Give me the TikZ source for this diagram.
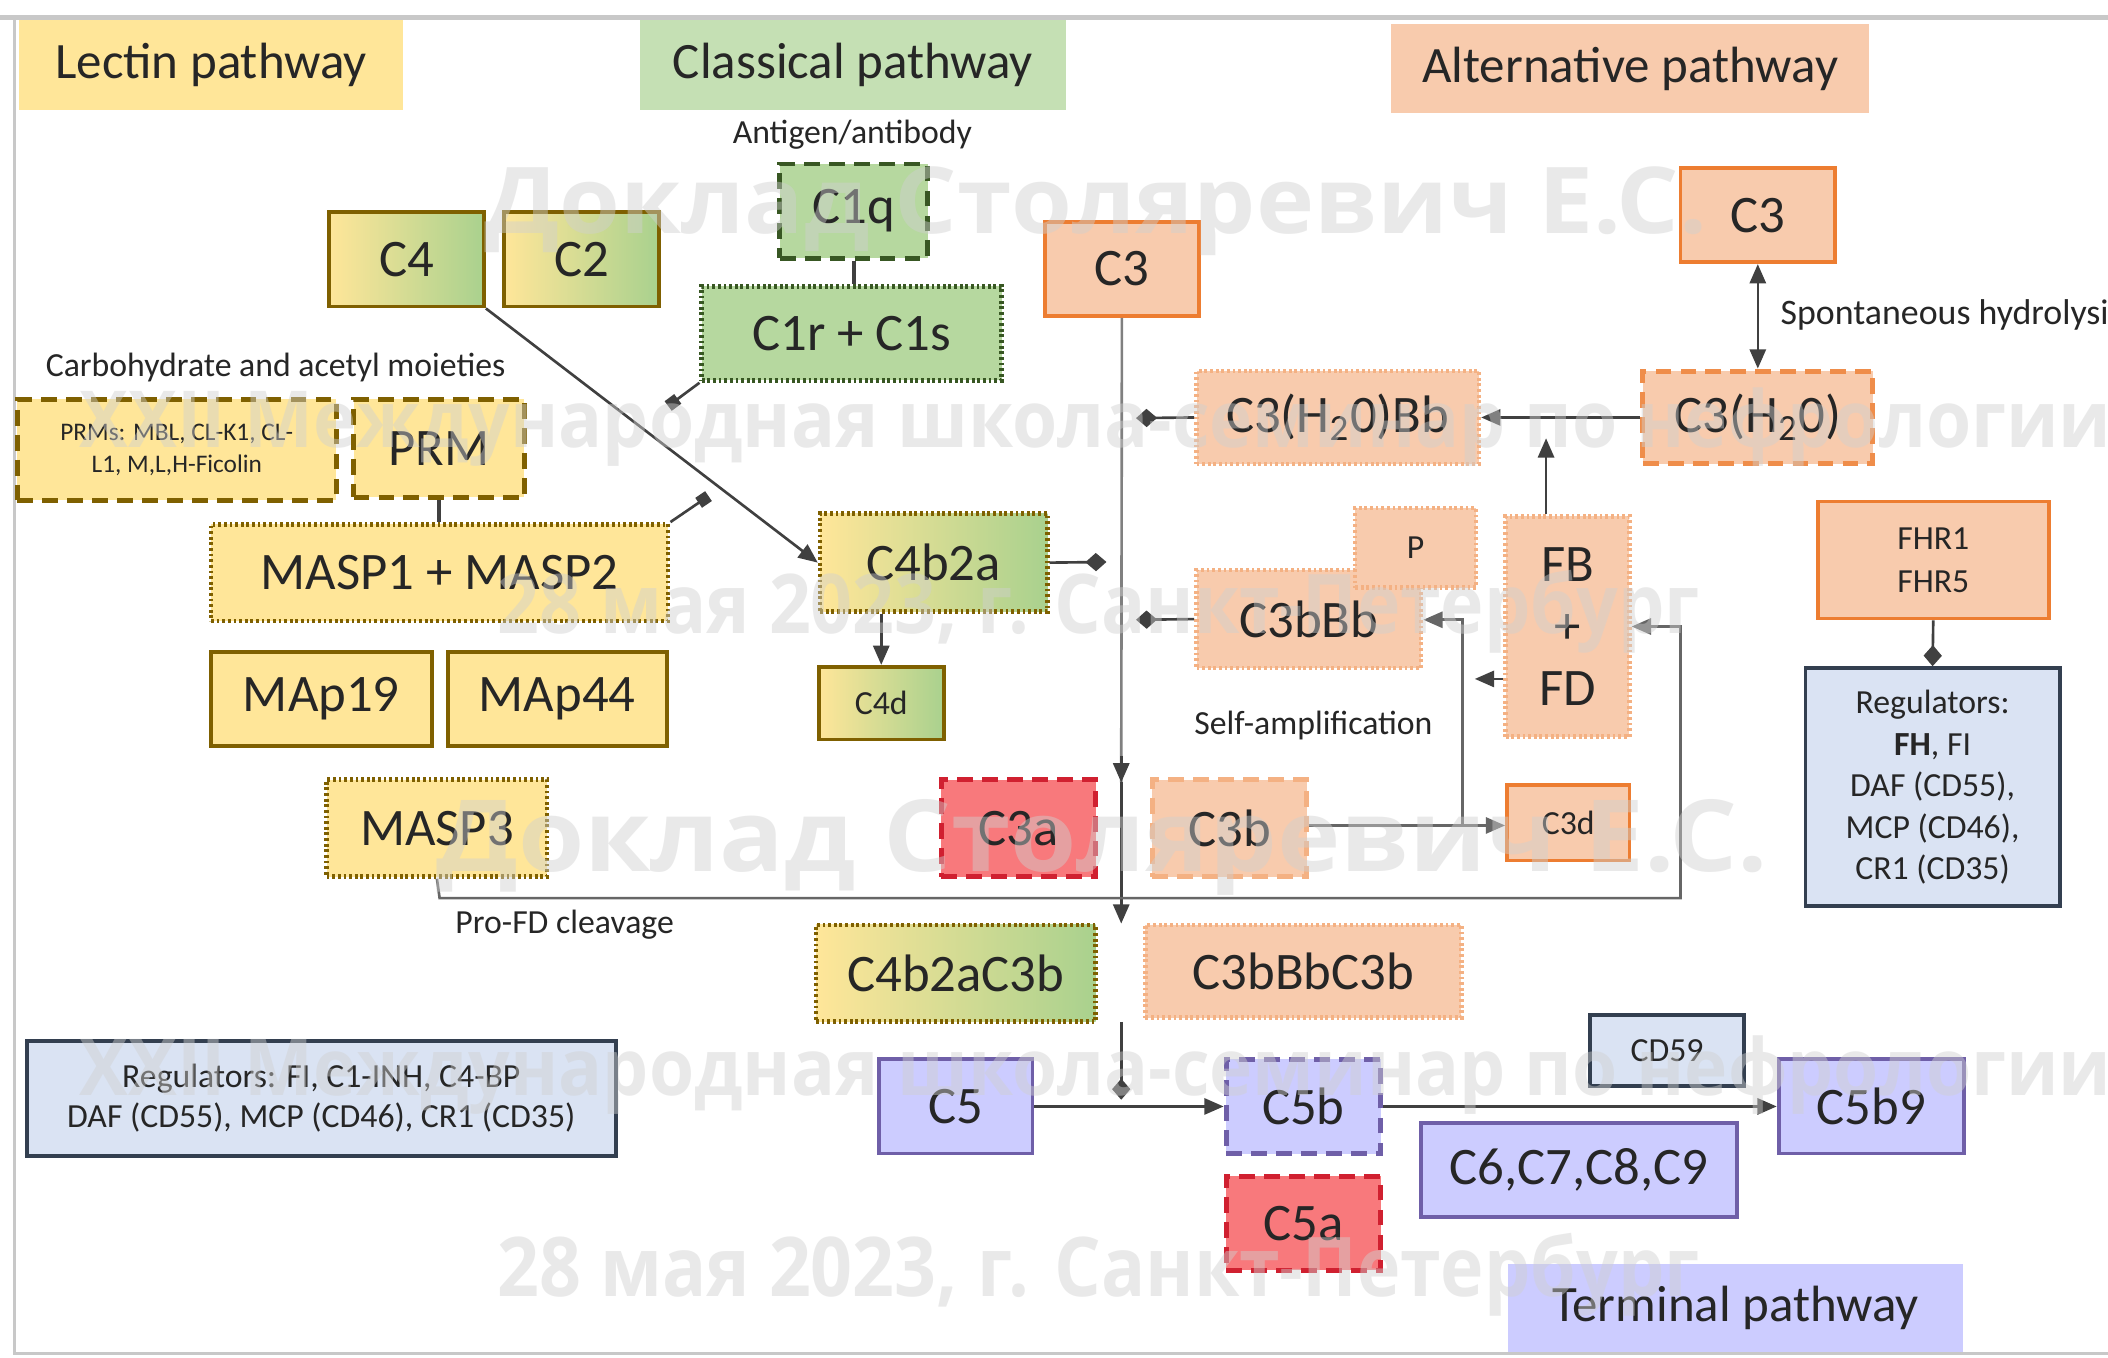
\documentclass[tikz,border=0pt]{standalone}
\usepackage{fontspec}
\setmainfont{Carlito}
\newfontfamily\wmfont{Open Sans}
\usepackage{graphicx}
\usetikzlibrary{arrows.meta}
\definecolor{txt}{HTML}{262626}
\definecolor{yelF}{HTML}{FFE699}
\definecolor{grnF}{HTML}{A9D18E}
\definecolor{grnT}{HTML}{C5E0B4}
\definecolor{orgF}{HTML}{F8CBAD}
\definecolor{orgB}{HTML}{ED7D31}
\definecolor{orgL}{HTML}{F4B183}
\definecolor{oliveB}{HTML}{7F6000}
\definecolor{dgrnB}{HTML}{385723}
\definecolor{redF}{HTML}{F8797C}
\definecolor{redB}{HTML}{D02030}
\definecolor{lavF}{HTML}{CCCCFF}
\definecolor{lavB}{HTML}{6F5FA8}
\definecolor{bluF}{HTML}{DAE3F3}
\definecolor{bluB}{HTML}{333F50}
\definecolor{lineC}{HTML}{404040}
\definecolor{frameC}{HTML}{C8C8C8}
\definecolor{wmC}{HTML}{D0D0D0}
\newlength\U
\setlength\U{0.38252pt}
\newcommand\lbl{\fontsize{15}{17}\selectfont}
\newcommand\ttlf{\fontsize{14.5}{17}\selectfont}
\newcommand\sml{\fontsize{9.6}{11.8}\selectfont}
\newcommand\tny{\fontsize{7.2}{9}\selectfont}
\newcommand\bx[7]{\node[bs,#6,minimum width={(#4-#2)*\U},minimum height={(#5-#3)*\U}] (#1) at ({(#2+#4)/2},{(#3+#5)/2}) {#7};}
\tikzset{
  bs/.style={rectangle,inner sep=0pt,align=center,text=txt,font=\lbl},
  sol/.style={draw,line width=1.1pt},
  dsh/.style={draw,line width=1.4pt,dash pattern=on 4.5pt off 2.6pt},
  dts/.style={draw,line width=1.3pt,dash pattern=on 0.8pt off 0.8pt},
  yel/.style={fill=yelF,draw=oliveB},
  grad/.style={left color=yelF,right color=grnF,draw=oliveB},
  grnb/.style={fill=grnF!85!white,draw=dgrnB},
  org/.style={fill=orgF,draw=orgB},
  orgl/.style={fill=orgF,draw=orgL},
  redb/.style={fill=redF,draw=redB},
  lav/.style={fill=lavF,draw=lavB},
  blu/.style={fill=bluF,draw=bluB},
  ttl/.style={font=\ttlf},
  lab/.style={text=txt,font=\sml,inner sep=0pt},
  conn/.style={draw=lineC,line width=0.75pt},
  arr/.style={conn,-{Triangle[length=5.5pt,width=4.6pt]}},
  dia/.style={conn,-{Diamond[length=6pt,width=5.2pt]}},
  sqr/.style={conn,-{Square[length=3.4pt,width=3.4pt]}},
  wm/.style={inner sep=0pt,text=wmC,text opacity=0.45,font=\wmfont\bfseries}
}
\begin{document}
\begin{tikzpicture}[x=0.013444cm,y=-0.013444cm]
\useasboundingbox (0,0) rectangle (1568,1010);
\fill[white] (0,0) rectangle (1568,1010);
% frame
\draw[frameC,line width=1.3pt] (0,13) -- (1568,13);
\draw[frameC,line width=0.8pt] (11,13) -- (11,1007) -- (1568,1007);
% titles
\bx{tL}{14}{15}{300}{82}{ttl,fill=yelF}{Lectin pathway}
\bx{tC}{476}{15}{793}{82}{ttl,fill=grnT}{Classical pathway}
\bx{tA}{1035}{18}{1390}{84}{ttl,fill=orgF}{Alternative pathway}
\bx{tT}{1122}{940}{1460}{1006}{ttl,fill=lavF}{Terminal pathway}
% free labels
\node[lab] (l1) at (634,100) {Antigen/antibody};
\node[lab] (l2) at (205,273) {Carbohydrate and acetyl moieties};
\node[lab,anchor=west,font=\fontsize{10.2}{12}\selectfont] (l3) at (1324,234) {Spontaneous hydrolysis};
\node[lab] (l4) at (977,540) {Self-amplification};
\node[lab] (l5) at (420,688) {Pro-FD cleavage};
% lectin / classical nodes
\bx{C4}{245}{158}{360}{228}{grad,sol}{C4}
\bx{C2}{375}{158}{490}{228}{grad,sol}{C2}
\bx{C1q}{580}{122}{690}{192}{grnb,dsh}{C1q}
\bx{C1rs}{522}{213}{745}{283}{grnb,dts}{C1r + C1s}
\bx{PRMs}{13}{297}{250}{372}{yel,dsh,font=\tny}{PRMs: MBL, CL-K1, CL-\\L1, M,L,H-Ficolin}
\bx{PRM}{263}{297}{390}{370}{yel,dsh}{PRM}
\bx{MASP12}{157}{390}{497}{462}{yel,dts}{MASP1 + MASP2}
\bx{MAp19}{157}{485}{321}{555}{yel,sol}{MAp19}
\bx{MAp44}{333}{485}{496}{555}{yel,sol}{MAp44}
\bx{MASP3}{243}{580}{407}{652}{yel,dts}{MASP3}
\bx{C4b2a}{610}{382}{779}{455}{grad,dts}{C4b2a}
\bx{C4d}{609}{496}{702}{550}{grad,sol,font=\sml}{C4d}
% alternative
\bx{C3c}{777}{165}{892}{235}{org,sol}{C3}
\bx{C3r}{1250}{125}{1365}{195}{org,sol}{C3}
\bx{C3HBb}{890}{276}{1100}{345}{orgl,dts}{C3(H\textsubscript{2}0)Bb}
\bx{C3H}{1222}{276}{1393}{345}{orgl,dsh,draw=orgB!70!orgL}{C3(H\textsubscript{2}0)}
\bx{C3bBb}{890}{424}{1057}{497}{orgl,dts}{C3bBb}
\bx{P}{1008}{378}{1098}{437}{orgl,dts,font=\sml}{P}
\bx{FBFD}{1120}{384}{1212}{548}{orgl,dts,font=\fontsize{15}{17.6}\selectfont}{FB\\+\\FD}
\bx{FHR}{1352}{373}{1524}{460}{org,sol,font=\fontsize{9.6}{12.2}\selectfont}{FHR1\\FHR5}
\bx{RegR}{1343}{497}{1532}{674}{blu,sol,font=\fontsize{9.6}{11.8}\selectfont}{Regulators:\\\textbf{FH}, FI\\DAF (CD55),\\MCP (CD46),\\CR1 (CD35)}
\bx{C3a}{700}{580}{815}{652}{redb,dsh}{C3a}
\bx{C3b}{857}{580}{972}{652}{orgl,dsh}{C3b}
\bx{C3d}{1121}{584}{1212}{640}{org,sol,font=\sml}{C3d}
\bx{C4b2aC3b}{607}{688}{815}{760}{grad,dts}{C4b2aC3b}
\bx{C3bBbC3b}{852}{688}{1087}{757}{orgl,dts}{C3bBbC3b}
\bx{RegL}{20}{774}{458}{860}{blu,sol,font=\fontsize{9.6}{11.5}\selectfont}{Regulators: FI, C1-INH, C4-BP\\DAF (CD55), MCP (CD46), CR1 (CD35)}
% terminal
\bx{C5}{654}{788}{768}{858}{lav,sol}{C5}
\bx{C5b}{912}{788}{1027}{858}{lav,dsh}{C5b}
\bx{C5a}{912}{875}{1027}{945}{redb,dsh}{C5a}
\bx{CD59}{1183}{755}{1297}{808}{blu,sol,font=\sml}{CD59}
\bx{C6}{1057}{835}{1292}{905}{lav,sol}{C6,C7,C8,C9}
\bx{C5b9}{1323}{788}{1461}{858}{lav,sol}{C5b9}
% coordinates
\coordinate (sq1) at (497,302);
\coordinate (sq2) at (527,369);
\coordinate (d1) at (823,418);
\coordinate (d2) at (845,311);
\coordinate (d3) at (845,461);
\coordinate (v1) at (834,582);
\coordinate (v2) at (834,687);
\coordinate (v3) at (834,760);
\coordinate (v4) at (834,818);
\coordinate (fu) at (1150,326);
\coordinate (fd) at (1097,505);
\coordinate (lp1) at (327,668);
\coordinate (lp2) at (1250,668);
\coordinate (lp3) at (1250,466);
\coordinate (sa1) at (1088,614);
\coordinate (sa2) at (1088,461);
% connectors
\draw[conn,line width=1.1pt] (C1q.south) -- (C1q.south |- C1rs.north);
\draw[conn,line width=1.1pt] (PRM.south) -- (PRM.south |- MASP12.north);
\draw[arr] (C4.south east) -- (C4b2a.west);
\draw[sqr] (C1rs.south west) -- (sq1);
\draw[sqr] (MASP12.north east) -- (sq2);
\draw[arr] (C4d.north |- C4b2a.south) -- (C4d.north);
\draw[dia] (C4b2a.east) -- (d1);
\draw[conn,draw=gray] (C3c.south) -- (v1);
\draw[arr] (v1) ++(0,-20) -- (v1);
\draw[arr] (v1) -- (v2);
\draw[dia] (v3) -- (v4);
\draw[dia] (C3HBb.west) -- (d2);
\draw[dia] (C3bBb.west) -- (d3);
\draw[arr] (C3H.west) -- (C3HBb.east);
\draw[arr] (fu |- FBFD.north) -- (fu);
\draw[arr] (fd -| FBFD.west) -- (fd);
\draw[conn,{Triangle[length=5.5pt,width=4.6pt]}-{Triangle[length=5.5pt,width=4.6pt]}] (C3r.south) -- (C3H.north);
\draw[arr,draw=gray!80!black] (MASP3.south) -- (lp1) -- (lp2) -- (lp3) -- (lp3 -| FBFD.east);
\draw[arr,draw=gray!80!black] (C3b.east |- sa1) -- (sa1 -| C3d.west);
\draw[arr,draw=gray!80!black] (sa1) -- (sa2) -- (sa2 -| C3bBb.east);
\draw[dia] (FHR.south) -- (RegR.north);
\draw[arr] (C5.east) -- (C5.east -| C5b.west);
\draw[arr] (C5b.east) -- (C5b.east -| C5b9.west);
% watermark
\node[wm] (w1) at (815,157) {\resizebox{348pt}{19pt}{Доклад Столяревич Е.С.}};
\node[wm] (w2) at (815,318) {\resizebox{578pt}{17pt}{XXII Международная школа-семинар по нефрологии}};
\node[wm] (w3) at (817,455) {\resizebox{342pt}{18pt}{28 мая 2023, г. Санкт-Петербург}};
\node[wm] (w4) at (820,630) {\resizebox{379pt}{20.5pt}{Доклад Столяревич Е.С.}};
\node[wm] (w5) at (815,800) {\resizebox{578pt}{17pt}{XXII Международная школа-семинар по нефрологии}};
\node[wm] (w6) at (817,948) {\resizebox{342pt}{18pt}{28 мая 2023, г. Санкт-Петербург}};
\end{tikzpicture}
\end{document}
